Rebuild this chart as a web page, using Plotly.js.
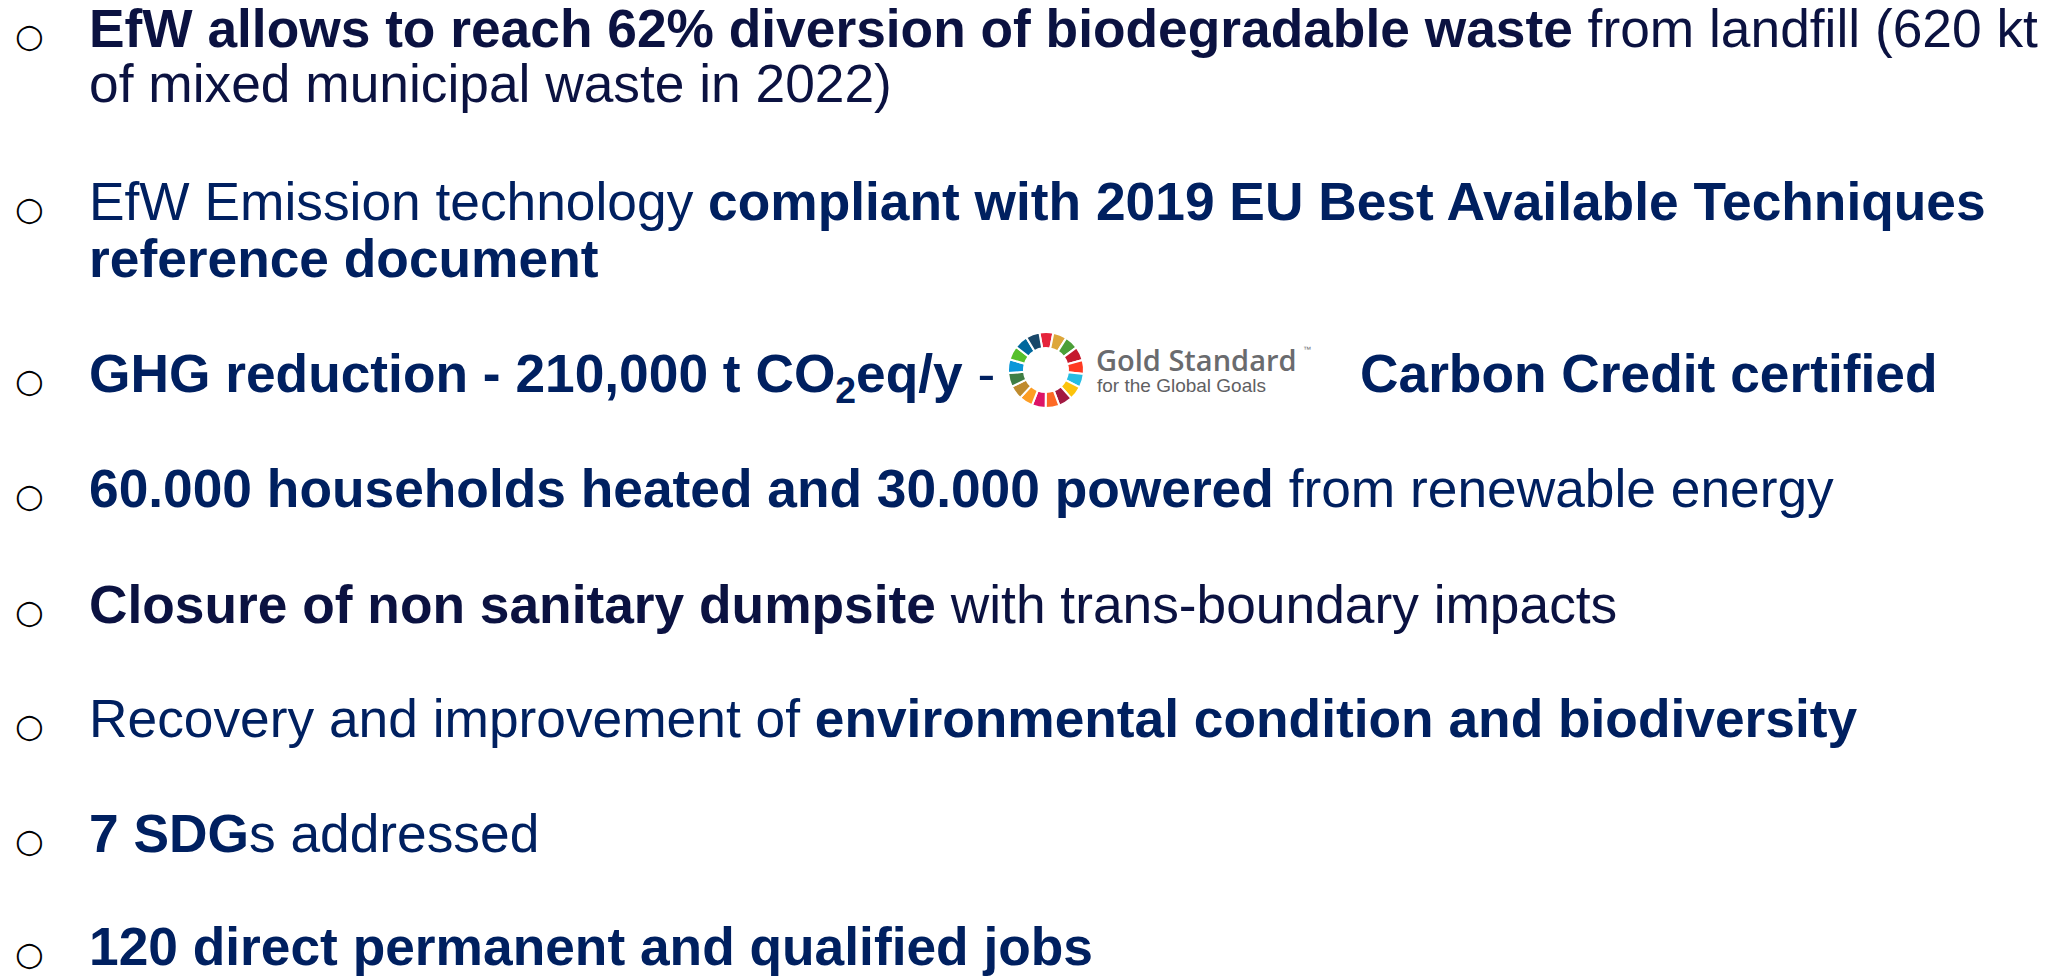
<!DOCTYPE html>
<html>
<head>
<meta charset="utf-8">
<script src="https://cdn.plot.ly/plotly-3.0.1.min.js"></script>
<style>html,body{margin:0;padding:0;background:#fff;overflow:hidden}#chart{width:2050px;height:976px}</style>
</head>
<body>
<div id="chart"></div>
<script>
// ---- content (text) ----
const bulletLines = [
  ["<b>EfW allows to reach 62% diversion of biodegradable waste</b> from landfill (620 kt",
   "of mixed municipal waste in 2022)"],
  ["EfW Emission technology <b>compliant with 2019 EU Best Available Techniques</b>",
   "<b>reference document</b>"],
  ["<b>GHG reduction - 210,000 t CO<sub>2</sub>eq/y</b> - "],
  ["<b>60.000 households heated and 30.000 powered</b> from renewable energy"],
  ["<b>Closure of non sanitary dumpsite</b> with trans-boundary impacts"],
  ["Recovery and improvement of <b>environmental condition and biodiversity</b>"],
  ["<b>7 SDG</b>s addressed"],
  ["<b>120 direct permanent and qualified jobs</b>"]
];
const bullet3Tail = "<b>Carbon Credit certified</b>";
const logoTitle = "Gold Standard";
const logoSubtitle = "for the Global Goals";
const logoMark = "™";

// SDG wheel (17 goals, equal share)
const sdgGoals = ["1","2","3","4","5","6","7","8","9","10","11","12","13","14","15","16","17"];
const sdgShare = [1,1,1,1,1,1,1,1,1,1,1,1,1,1,1,1,1];
const sdgColors = ["#E5243B","#DDA63A","#4C9F38","#C5192D","#FF3A21","#26BDE2","#FCC30B","#A21942",
                   "#FD6925","#DD1367","#FD9D24","#BF8B2E","#3F7E44","#0A97D9","#56C02B","#00689D","#19486A"];

// ---- layout constants (positions / styles) ----
const W = 2050, H = 976;
const TEXT_X = 89;
const baselines = [[47,102],[220,277],[392],[507],[623],[737],[852],[965]];
const SIZE = 53.3;
const colors = ["#0b1241","#002060","#002060","#002060","#0b1241","#002060","#002060","#002060"];
const FONT = "Liberation Sans, Arial, sans-serif";
const ASC = 0.905;

function txt(xpx, basePx, size, text, color, family, anchor, weight) {
  const f = {family: family || FONT, size: size, color: color};
  if (weight) f.weight = weight;
  return {
    xref: "paper", yref: "paper",
    x: xpx / W, y: 1 - (basePx - ASC * size) / H,
    xanchor: anchor || "left", yanchor: "top",
    showarrow: false, text: text, align: "left",
    borderpad: 0, borderwidth: 0,
    font: f
  };
}

const annotations = [];
bulletLines.forEach((lines, i) => {
  lines.forEach((ln, j) => {
    annotations.push(txt(TEXT_X, baselines[i][j], SIZE, ln, colors[i]));
  });
  // bullet marker
  annotations.push(txt(29, baselines[i][0] - 1, 33, "○", "#000000", "DejaVu Sans", "center"));
});
annotations.push(txt(1360, baselines[2][0], SIZE, bullet3Tail, colors[2]));
annotations.push(txt(1096, 366, 29, logoTitle, "#6a6b6e", "Open Sans, Liberation Sans, sans-serif", null, 600));
annotations.push(txt(1097, 392, 19, logoSubtitle, "#5f6062", "Liberation Sans, Arial, sans-serif"));
annotations.push(txt(1303, 352, 8, logoMark, "#6d6e71", "Liberation Sans, Arial, sans-serif"));

const cx = 1046, cy = 370, r = 38;
const data = [{
  type: "pie",
  labels: sdgGoals,
  values: sdgShare,
  marker: {colors: sdgColors, line: {color: "#ffffff", width: 2}},
  hole: 0.58,
  sort: false,
  direction: "clockwise",
  rotation: -10,
  textinfo: "none",
  hoverinfo: "none",
  domain: {x: [(cx - r) / W, (cx + r) / W], y: [1 - (cy + r) / H, 1 - (cy - r) / H]}
}];

const layout = {
  width: W, height: H,
  margin: {l: 0, r: 0, t: 0, b: 0},
  paper_bgcolor: "#ffffff", plot_bgcolor: "#ffffff",
  showlegend: false,
  annotations: annotations
};

Plotly.newPlot("chart", data, layout, {staticPlot: true, displayModeBar: false});
</script>
</body>
</html>
